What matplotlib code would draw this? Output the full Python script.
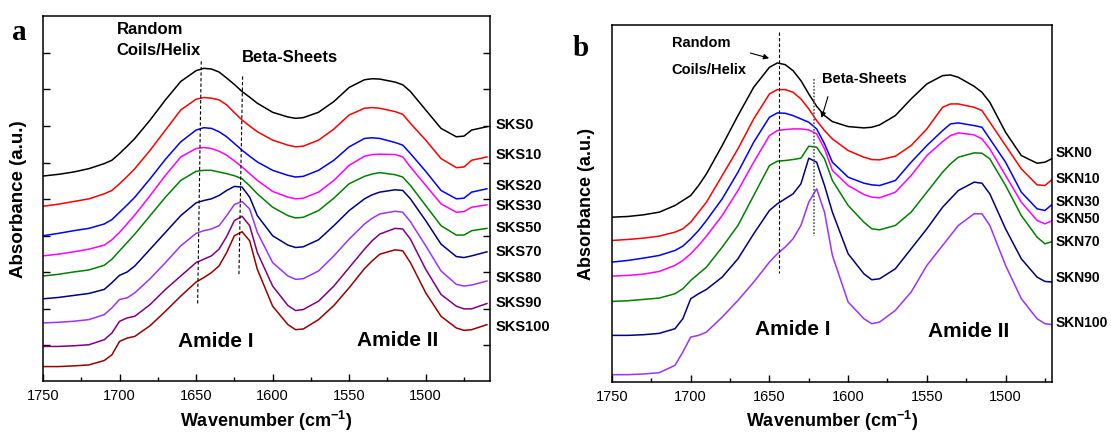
import matplotlib
matplotlib.use("Agg")
import matplotlib.pyplot as plt
from matplotlib.ticker import MultipleLocator, NullFormatter

plt.rcParams['font.family'] = ['Liberation Sans', 'DejaVu Sans']
plt.rcParams['mathtext.fontset'] = 'custom'
plt.rcParams['mathtext.rm'] = 'Liberation Sans'
plt.rcParams['mathtext.bf'] = 'Liberation Sans:bold'

# ---- panel a: SKS series (absorbance, offset, arbitrary units) ----
wn_a = [1750, 1740, 1730, 1720, 1710, 1705, 1700, 1695, 1690, 1680, 1670, 1660,
        1650, 1645, 1640, 1635, 1630, 1625, 1620, 1615, 1610, 1600, 1590, 1585,
        1580, 1570, 1560, 1550, 1540, 1535, 1530, 1520, 1515, 1510, 1500, 1490,
        1480, 1475, 1470, 1460]

sks0 = [0.611, 0.616, 0.623, 0.633, 0.648, 0.658, 0.678, 0.700, 0.723, 0.778, 0.838, 0.893,
        0.925, 0.932, 0.930, 0.921, 0.903, 0.884, 0.863, 0.846, 0.828, 0.801, 0.787, 0.783,
        0.785, 0.801, 0.833, 0.875, 0.898, 0.901, 0.900, 0.891, 0.883, 0.863, 0.808, 0.753,
        0.728, 0.730, 0.748, 0.758]
sks10 = [0.521, 0.527, 0.535, 0.543, 0.558, 0.568, 0.588, 0.610, 0.633, 0.688, 0.748, 0.808,
         0.840, 0.845, 0.843, 0.838, 0.823, 0.800, 0.778, 0.760, 0.743, 0.718, 0.703, 0.698,
         0.700, 0.718, 0.751, 0.793, 0.813, 0.815, 0.813, 0.803, 0.795, 0.768, 0.718, 0.663,
         0.636, 0.638, 0.658, 0.668]
sks20 = [0.433, 0.440, 0.448, 0.455, 0.468, 0.481, 0.503, 0.525, 0.548, 0.603, 0.661, 0.713,
         0.748, 0.755, 0.753, 0.743, 0.728, 0.708, 0.688, 0.670, 0.653, 0.628, 0.613, 0.608,
         0.610, 0.628, 0.658, 0.698, 0.723, 0.725, 0.723, 0.711, 0.703, 0.678, 0.625, 0.568,
         0.543, 0.545, 0.563, 0.573]
sks30 = [0.373, 0.378, 0.385, 0.393, 0.405, 0.421, 0.443, 0.469, 0.495, 0.553, 0.613, 0.668,
         0.693, 0.696, 0.693, 0.685, 0.673, 0.656, 0.638, 0.618, 0.598, 0.565, 0.548, 0.543,
         0.545, 0.563, 0.598, 0.643, 0.670, 0.675, 0.676, 0.675, 0.668, 0.638, 0.583, 0.528,
         0.503, 0.505, 0.518, 0.525]
sks50 = [0.313, 0.318, 0.325, 0.331, 0.345, 0.363, 0.388, 0.413, 0.438, 0.493, 0.548, 0.598,
         0.625, 0.628, 0.628, 0.623, 0.618, 0.612, 0.603, 0.582, 0.558, 0.518, 0.493, 0.486,
         0.488, 0.508, 0.545, 0.588, 0.610, 0.617, 0.621, 0.615, 0.608, 0.583, 0.523, 0.463,
         0.435, 0.435, 0.448, 0.455]
sks70 = [0.245, 0.249, 0.255, 0.261, 0.273, 0.293, 0.315, 0.325, 0.343, 0.393, 0.443, 0.493,
         0.531, 0.538, 0.543, 0.553, 0.568, 0.580, 0.578, 0.548, 0.493, 0.433, 0.405, 0.398,
         0.400, 0.421, 0.463, 0.508, 0.543, 0.555, 0.563, 0.570, 0.568, 0.543, 0.478, 0.408,
         0.371, 0.368, 0.373, 0.385]
sks80 = [0.173, 0.175, 0.178, 0.183, 0.198, 0.218, 0.243, 0.248, 0.263, 0.305, 0.353, 0.403,
         0.440, 0.448, 0.453, 0.463, 0.493, 0.526, 0.535, 0.513, 0.443, 0.353, 0.313, 0.303,
         0.305, 0.328, 0.373, 0.423, 0.468, 0.485, 0.498, 0.506, 0.503, 0.475, 0.403, 0.328,
         0.288, 0.283, 0.286, 0.298]
sks90 = [0.103, 0.103, 0.105, 0.108, 0.123, 0.143, 0.178, 0.188, 0.193, 0.228, 0.273, 0.313,
         0.353, 0.363, 0.373, 0.393, 0.431, 0.478, 0.491, 0.463, 0.383, 0.283, 0.225, 0.210,
         0.213, 0.238, 0.283, 0.338, 0.393, 0.418, 0.438, 0.455, 0.453, 0.423, 0.333, 0.258,
         0.223, 0.215, 0.215, 0.231]
sks100 = [0.043, 0.043, 0.045, 0.048, 0.061, 0.078, 0.118, 0.128, 0.133, 0.165, 0.208, 0.253,
          0.295, 0.308, 0.323, 0.343, 0.383, 0.433, 0.445, 0.418, 0.333, 0.223, 0.168, 0.153,
          0.155, 0.183, 0.225, 0.278, 0.335, 0.358, 0.378, 0.391, 0.388, 0.353, 0.263, 0.193,
          0.158, 0.151, 0.153, 0.168]

names_a = ["SKS0", "SKS10", "SKS20", "SKS30", "SKS50", "SKS70", "SKS80", "SKS90", "SKS100"]
series_a = [sks0, sks10, sks20, sks30, sks50, sks70, sks80, sks90, sks100]
colors_a = ["black", "#ff0000", "#0000ff", "#ff00ff", "#008000", "#000080",
            "#9933ff", "#800080", "#990000"]
label_y_a = [0.766, 0.677, 0.584, 0.525, 0.458, 0.388, 0.309, 0.236, 0.164]

# ---- panel b: SKN series ----
wn_b = [1750, 1740, 1730, 1720, 1710, 1705, 1700, 1695, 1690, 1680, 1670, 1660,
        1650, 1645, 1640, 1635, 1630, 1625, 1620, 1615, 1610, 1600, 1590, 1585,
        1580, 1570, 1560, 1550, 1540, 1535, 1530, 1520, 1515, 1510, 1500, 1490,
        1480, 1475, 1470]

skn0 = [0.495, 0.497, 0.502, 0.510, 0.530, 0.545, 0.560, 0.590, 0.625, 0.710, 0.800, 0.885,
        0.945, 0.958, 0.953, 0.935, 0.905, 0.865, 0.828, 0.800, 0.782, 0.767, 0.763, 0.765,
        0.772, 0.800, 0.850, 0.895, 0.920, 0.922, 0.915, 0.888, 0.870, 0.840, 0.750, 0.680,
        0.657, 0.660, 0.672]
skn10 = [0.425, 0.428, 0.432, 0.438, 0.450, 0.460, 0.480, 0.510, 0.540, 0.620, 0.700, 0.790,
         0.865, 0.878, 0.878, 0.870, 0.850, 0.820, 0.785, 0.755, 0.730, 0.695, 0.675, 0.668,
         0.667, 0.678, 0.710, 0.760, 0.825, 0.835, 0.835, 0.825, 0.815, 0.780, 0.710, 0.640,
         0.592, 0.590, 0.610]
skn30 = [0.360, 0.365, 0.372, 0.380, 0.395, 0.408, 0.430, 0.455, 0.485, 0.550, 0.630, 0.720,
         0.795, 0.808, 0.807, 0.800, 0.790, 0.780, 0.760, 0.715, 0.660, 0.615, 0.597, 0.592,
         0.590, 0.605, 0.660, 0.710, 0.755, 0.775, 0.778, 0.770, 0.765, 0.730, 0.660, 0.570,
         0.520, 0.515, 0.535]
skn50 = [0.318, 0.320, 0.324, 0.332, 0.350, 0.365, 0.385, 0.410, 0.438, 0.500, 0.575, 0.660,
         0.740, 0.755, 0.758, 0.760, 0.760, 0.757, 0.745, 0.700, 0.635, 0.590, 0.563, 0.555,
         0.553, 0.570, 0.620, 0.680, 0.722, 0.740, 0.748, 0.742, 0.730, 0.700, 0.620, 0.540,
         0.485, 0.475, 0.485]
skn70 = [0.242, 0.244, 0.248, 0.252, 0.265, 0.280, 0.305, 0.325, 0.345, 0.405, 0.470, 0.560,
         0.650, 0.663, 0.665, 0.668, 0.672, 0.708, 0.705, 0.670, 0.605, 0.530, 0.480, 0.460,
         0.457, 0.470, 0.510, 0.570, 0.630, 0.655, 0.675, 0.688, 0.687, 0.670, 0.590, 0.500,
         0.435, 0.415, 0.422]
skn90 = [0.140, 0.140, 0.142, 0.146, 0.160, 0.190, 0.250, 0.265, 0.278, 0.315, 0.370, 0.445,
         0.515, 0.535, 0.550, 0.565, 0.595, 0.672, 0.660, 0.590, 0.510, 0.385, 0.325, 0.307,
         0.310, 0.340, 0.400, 0.460, 0.525, 0.550, 0.575, 0.600, 0.597, 0.565, 0.460, 0.370,
         0.315, 0.302, 0.300]
skn100 = [0.022, 0.022, 0.024, 0.028, 0.050, 0.090, 0.135, 0.140, 0.150, 0.195, 0.245, 0.300,
          0.360, 0.385, 0.405, 0.430, 0.470, 0.540, 0.580, 0.510, 0.380, 0.240, 0.190, 0.175,
          0.180, 0.215, 0.270, 0.350, 0.410, 0.440, 0.470, 0.505, 0.505, 0.470, 0.350, 0.250,
          0.190, 0.175, 0.172]

names_b = ["SKN0", "SKN10", "SKN30", "SKN50", "SKN70", "SKN90", "SKN100"]
series_b = [skn0, skn10, skn30, skn50, skn70, skn90, skn100]
colors_b = ["black", "#ff0000", "#0000ff", "#ff00ff", "#008000", "#000080", "#9933ff"]
label_y_b = [0.690, 0.612, 0.544, 0.492, 0.424, 0.314, 0.181]

# marker lines (wavenumber, absorbance) for the secondary-structure bands
helix_a = ([1646.6, 1649.0], [0.953, 0.225])
beta_a = ([1619.6, 1622.0], [0.908, 0.318])
helix_b = ([1644.2, 1644.2], [1.051, 0.327])
beta_b = ([1621.7, 1621.7], [0.910, 0.438])

fig = plt.figure(figsize=(11.11, 4.35), dpi=100)
W, H = 1111.0, 435.0
ax_a = fig.add_axes([43 / W, 1 - 382 / H, 447 / W, 365 / H])
ax_b = fig.add_axes([612 / W, 1 - 383 / H, 440 / W, 357 / H])


def style_axis(ax, xlim, ylim, ylabel_x, fs_ylabel, xlabel_y):
    ax.set_xlim(*xlim)
    ax.set_ylim(*ylim)
    for s in ax.spines.values():
        s.set_linewidth(1.1)
    ax.xaxis.set_major_locator(MultipleLocator(50))
    ax.xaxis.set_minor_locator(MultipleLocator(25))
    ax.tick_params(axis='x', which='major', direction='in', length=5, width=1.0,
                   labelsize=10.5, pad=5, top=False)
    ax.tick_params(axis='x', which='minor', direction='in', length=3, width=1.0, top=False)
    ax.set_xlabel("Wavenumber (cm$^{\\mathbf{-1}}$)", fontsize=13, fontweight='bold')
    ax.xaxis.set_label_coords(0.5, xlabel_y)
    ax.set_ylabel("Absorbance (a.u.)", fontsize=fs_ylabel, fontweight='bold')
    ax.yaxis.set_label_coords(ylabel_x, 0.5)


# panel a
for y, c in zip(series_a, colors_a):
    ax_a.plot(wn_a, y, color=c, lw=1.1, solid_joinstyle='round')
for name, ly in zip(names_a, label_y_a):
    ax_a.text(1.012, ly, name, transform=ax_a.get_yaxis_transform(), fontsize=10.5,
              fontweight='bold', va='center', ha='left')
ax_a.plot(*helix_a, color='black', lw=0.8, ls=(0, (3, 2)))
ax_a.plot(*beta_a, color='black', lw=0.8, ls=(0, (3, 2)))
style_axis(ax_a, (1750, 1458), (0, 1.088), -0.036, 13.5, -0.074)
ax_a.set_yticks([0.106 + 0.109 * k for k in range(9)])
ax_a.yaxis.set_major_formatter(NullFormatter())
ax_a.tick_params(axis='y', direction='in', length=5, width=1.0, left=True, right=True)
ax_a.text(1701.8, 1.051, "Random", fontsize=12, fontweight='bold', va='center')
ax_a.text(1701.8, 0.988, "Coils/Helix", fontsize=12, fontweight='bold', va='center')
ax_a.text(1619.9, 0.968, "Beta-Sheets", fontsize=12, fontweight='bold', va='center')
ax_a.text(1637.3, 0.120, "Amide I", fontsize=15, fontweight='bold', va='center', ha='center')
ax_a.text(1518.4, 0.123, "Amide II", fontsize=15, fontweight='bold', va='center', ha='center')
fig.text(19 / W, 1 - 32 / H, "a", fontsize=21, fontweight='bold', family='Liberation Serif',
         va='center', ha='center')

# panel b
for y, c in zip(series_b, colors_b):
    ax_b.plot(wn_b, y, color=c, lw=1.1, solid_joinstyle='round')
for name, ly in zip(names_b, label_y_b):
    ax_b.text(1.008, ly, name, transform=ax_b.get_yaxis_transform(), fontsize=10,
              fontweight='bold', va='center', ha='left')
ax_b.plot(*helix_b, color='black', lw=0.8, ls=(0, (3, 2)))
ax_b.plot(*beta_b, color='0.35', lw=1.2, ls=(0, (1, 1)))
style_axis(ax_b, (1750, 1470.5), (0, 1.072), -0.039, 13, -0.073)
ax_b.set_yticks([])
ax_b.text(1712.1, 1.022, "Random", fontsize=10.5, fontweight='bold', va='center')
ax_b.text(1712.1, 0.940, "Coils/Helix", fontsize=10.5, fontweight='bold', va='center')
ax_b.text(1616.8, 0.912, "Beta-Sheets", fontsize=10.5, fontweight='bold', va='center')
ax_b.annotate("", xy=(1648.5, 0.970), xytext=(1663.8, 0.990),
              arrowprops=dict(arrowstyle='-|>', color='black', lw=0.8, mutation_scale=8))
ax_b.annotate("", xy=(1617.4, 0.785), xytext=(1612.3, 0.865),
              arrowprops=dict(arrowstyle='-|>', color='black', lw=0.8, mutation_scale=8))
ax_b.text(1635.2, 0.160, "Amide I", fontsize=15, fontweight='bold', va='center', ha='center')
ax_b.text(1523.6, 0.155, "Amide II", fontsize=15, fontweight='bold', va='center', ha='center')
fig.text(581 / W, 1 - 48 / H, "b", fontsize=21, fontweight='bold', family='Liberation Serif',
         va='center', ha='center')

plt.savefig("out.png", dpi=100)
plt.close()
